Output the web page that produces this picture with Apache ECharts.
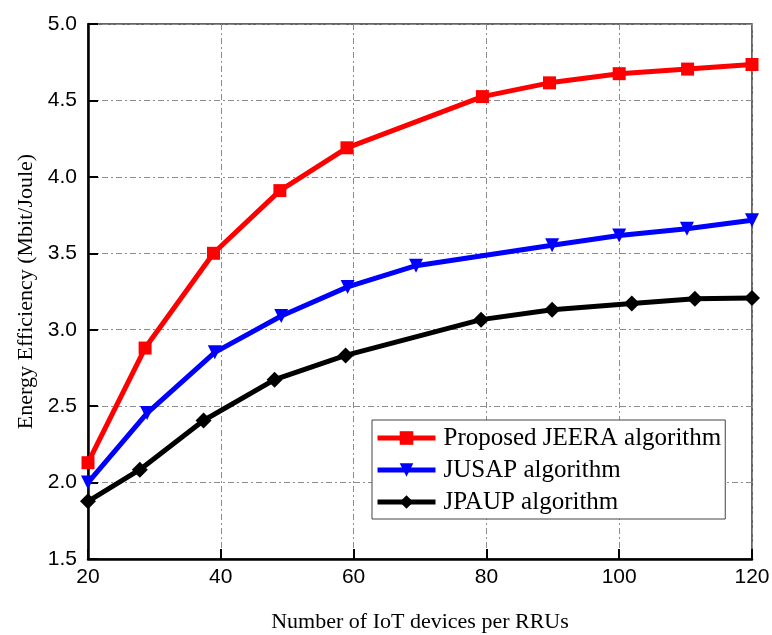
<!DOCTYPE html>
<html>
<head>
<meta charset="utf-8">
<title>Energy Efficiency vs Number of IoT devices</title>
<script src="https://cdn.jsdelivr.net/npm/echarts@6/dist/echarts.min.js"></script>
<style>
  html, body { margin: 0; padding: 0; background: #fff; }
  #chart { width: 772px; height: 635px; }
</style>
</head>
<body>
<div id="chart"></div>
<script>
// Series names
const seriesNames = ['Proposed JEERA algorithm', 'JUSAP algorithm', 'JPAUP algorithm'];

// Proposed JEERA algorithm
const jeeraX = [20, 28.6, 38.9, 48.9, 59.0, 79.4, 89.5, 100, 110.3, 120];
const jeeraY = [2.13, 2.88, 3.50, 3.91, 4.19, 4.525, 4.615, 4.675, 4.705, 4.735];

// JUSAP algorithm
const jusapX = [20, 28.9, 39.1, 49.1, 59.1, 69.4, 89.9, 100, 110.2, 120];
const jusapY = [2.0, 2.455, 2.852, 3.09, 3.28, 3.419, 3.552, 3.616, 3.66, 3.716];

// JPAUP algorithm
const jpaupX = [20, 27.8, 37.4, 48.1, 58.8, 79.2, 89.9, 101.9, 111.4, 120];
const jpaupY = [1.877, 2.084, 2.406, 2.673, 2.832, 3.066, 3.131, 3.171, 3.203, 3.208];

// Axis ranges
const xMin = 20, xMax = 120, xStep = 20;
const yMin = 1.5, yMax = 5.0, yStep = 0.5;

const pairs = (xs, ys) => xs.map((x, i) => [x, ys[i]]);

const serif = '"Liberation Serif", "Times New Roman", serif';
const sans = '"Liberation Sans", Arial, sans-serif';
const gridDash = { color: '#8c8c8c', width: 1, type: [6, 3, 2, 3] };

const chart = echarts.init(document.getElementById('chart'), null, { renderer: 'canvas' });

chart.setOption({
  animation: false,
  backgroundColor: '#ffffff',
  grid: {
    left: 88, top: 24, right: 20, bottom: 76,
    containLabel: false,
    outerBoundsMode: 'none',
    show: true, borderColor: '#333', borderWidth: 1.5, backgroundColor: 'transparent'
  },
  legend: {
    orient: 'vertical',
    left: 372, top: 420,
    data: seriesNames,
    backgroundColor: '#ffffff',
    borderColor: '#444', borderWidth: 1,
    padding: [5, 4, 4, 3],
    itemGap: 6,
    itemWidth: 58, itemHeight: 17,
    lineStyle: { width: 5 },
    textStyle: { fontFamily: serif, fontSize: 25, color: '#000', lineHeight: 26, padding: [0, 0, 0, 3] }
  },
  xAxis: {
    type: 'value',
    min: xMin, max: xMax, interval: xStep,
    name: 'Number of IoT devices per RRUs',
    nameLocation: 'middle',
    nameGap: 52,
    nameTextStyle: { fontFamily: serif, fontSize: 22, color: '#000' },
    axisLine: { show: true, onZero: false, lineStyle: { color: '#000', width: 2.5 } },
    axisTick: { show: true, inside: true, length: 10, lineStyle: { color: '#000', width: 2 } },
    axisLabel: { fontFamily: sans, fontSize: 21, color: '#000', margin: 8 },
    splitLine: { show: true, lineStyle: gridDash }
  },
  yAxis: {
    type: 'value',
    min: yMin, max: yMax, interval: yStep,
    name: 'Energy Efficiency (Mbit/Joule)',
    nameLocation: 'middle',
    nameGap: 49,
    nameRotate: 90,
    nameTextStyle: { fontFamily: serif, fontSize: 22, color: '#000' },
    axisLine: { show: true, onZero: false, lineStyle: { color: '#000', width: 2.5 } },
    axisTick: { show: true, inside: true, length: 10, lineStyle: { color: '#000', width: 2 } },
    axisLabel: { fontFamily: sans, fontSize: 21, color: '#000', margin: 11, formatter: v => v.toFixed(1) },
    splitLine: { show: true, lineStyle: gridDash }
  },
  series: [
    {
      name: seriesNames[0], type: 'line', data: pairs(jeeraX, jeeraY),
      symbol: 'rect', symbolSize: 13,
      lineStyle: { color: '#ff0000', width: 5 },
      itemStyle: { color: '#ff0000' },
      z: 4
    },
    {
      name: seriesNames[1], type: 'line', data: pairs(jusapX, jusapY),
      symbol: 'triangle', symbolSize: 14, symbolRotate: 180,
      lineStyle: { color: '#0000ff', width: 5 },
      itemStyle: { color: '#0000ff' },
      z: 3
    },
    {
      name: seriesNames[2], type: 'line', data: pairs(jpaupX, jpaupY),
      symbol: 'diamond', symbolSize: 16,
      lineStyle: { color: '#000000', width: 5 },
      itemStyle: { color: '#000000' },
      z: 2
    }
  ]
});
</script>
</body>
</html>
